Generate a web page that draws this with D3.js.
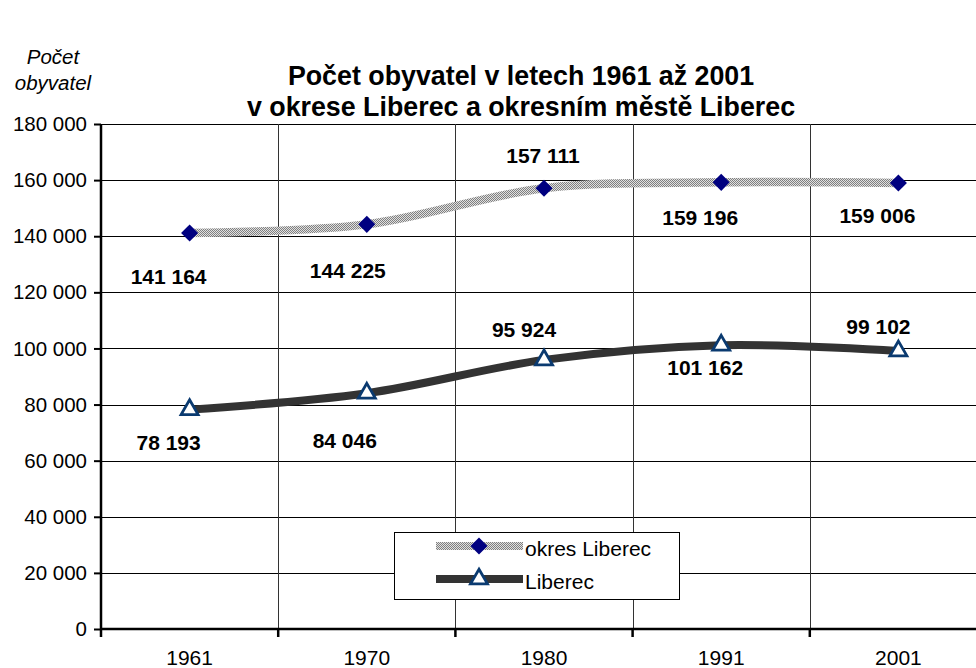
<!DOCTYPE html>
<html>
<head>
<meta charset="utf-8">
<script src="https://cdn.jsdelivr.net/npm/d3@7"></script>
<style>
html,body{margin:0;padding:0;background:#fff;}
svg{display:block;font-family:Arial,"Liberation Sans",sans-serif;}
</style>
</head>
<body>
<svg id="chart" width="976" height="668"></svg>
<script>
const categories = ["1961", "1970", "1980", "1991", "2001"];
const okresValues = [141164, 144225, 157111, 159196, 159006];
const liberecValues = [78193, 84046, 95924, 101162, 99102];
const yTicks = [0, 20000, 40000, 60000, 80000, 100000, 120000, 140000, 160000, 180000];
const seriesNames = ["okres Liberec", "Liberec"];
const titleLines = ["Počet obyvatel v letech 1961 až 2001", "v okrese Liberec a okresním městě Liberec"];
const yTitleLines = ["Počet", "obyvatel"];
// label offsets (px) relative to the point, as placed in the original
const okresLabelOffsets = [[-21, 44], [-19, 46], [-1, -33], [-21, 35], [-21, 33]];
const liberecLabelOffsets = [[-21, 33], [-22, 47], [-20, -30], [-16, 22], [-20, -24]];

const FONT = "Arial, 'Liberation Sans', sans-serif";
const svg = d3.select("#chart");
const pLeft = 101, pTop = 124, pBottom = 629, bandW = 177.2;
const pRight = pLeft + bandW * categories.length;

const x = d3.scaleBand().domain(categories).range([pLeft, pRight]).paddingInner(0).paddingOuter(0);
const y = d3.scaleLinear().domain([0, 180000]).range([pBottom, pTop]);
const fmt = v => d3.format(",")(v).replace(/,/g, " ");

// pattern for textured line
const defs = svg.append("defs");
const pat = defs.append("pattern").attr("id", "tex").attr("width", 2).attr("height", 2)
  .attr("patternUnits", "userSpaceOnUse");
pat.append("rect").attr("width", 2).attr("height", 2).attr("fill", "#e0e0e0");
pat.append("rect").attr("width", 1).attr("height", 1).attr("fill", "#808080");
pat.append("rect").attr("x", 1).attr("y", 1).attr("width", 1).attr("height", 1).attr("fill", "#808080");

// gridlines horizontal
svg.append("g").selectAll("line").data(yTicks.filter(d => d > 0)).join("line")
  .attr("x1", pLeft).attr("x2", pRight)
  .attr("y1", d => Math.round(y(d)) + 0.5).attr("y2", d => Math.round(y(d)) + 0.5)
  .attr("stroke", "#000").attr("stroke-width", 1);
// gridlines vertical at category boundaries
svg.append("g").selectAll("line").data(categories.slice(1)).join("line")
  .attr("x1", d => Math.round(x(d)) + 0.5).attr("x2", d => Math.round(x(d)) + 0.5)
  .attr("y1", pTop).attr("y2", pBottom)
  .attr("stroke", "#333").attr("stroke-width", 1);

// Y axis
const yAxis = d3.axisLeft(y).tickValues(yTicks).tickFormat(fmt).tickSize(7).tickPadding(7);
const gy = svg.append("g").attr("transform", `translate(${pLeft},0)`).call(yAxis);
gy.select(".domain").attr("stroke", "#000").attr("stroke-width", 2.5).attr("d", `M0,${pTop}V${pBottom}`);
gy.selectAll(".tick line").attr("stroke", "#000").attr("stroke-width", 2);
gy.selectAll(".tick text").attr("font-size", 20.5).attr("fill", "#000").attr("font-family", FONT);

// X axis
const xAxis = d3.axisBottom(x).tickSize(0).tickPadding(21);
const gx = svg.append("g").attr("transform", `translate(0,${pBottom})`).call(xAxis);
gx.select(".domain").attr("stroke", "#000").attr("stroke-width", 2.5).attr("d", `M${pLeft},0H${pRight}`);
gx.selectAll(".tick text").attr("font-size", 21).attr("fill", "#000").attr("font-family", FONT);
gx.append("g").selectAll("line").data(categories).join("line")
  .attr("x1", d => x(d)).attr("x2", d => x(d)).attr("y1", 0).attr("y2", 8)
  .attr("stroke", "#000").attr("stroke-width", 2.5);

const cx = d => x(d) + x.bandwidth() / 2;
const line = d3.line().x(d => d[0]).y(d => d[1]).curve(d3.curveCatmullRom.alpha(0.5));
const okPts = categories.map((c, i) => [cx(c), y(okresValues[i])]);
const libPts = categories.map((c, i) => [cx(c), y(liberecValues[i])]);

svg.append("path").attr("d", line(okPts)).attr("fill", "none").attr("stroke", "url(#tex)").attr("stroke-width", 8.5);
svg.append("path").attr("d", line(libPts)).attr("fill", "none").attr("stroke", "#333333").attr("stroke-width", 8);

const diamond = d3.symbol().type(d3.symbolSquare).size(145);
const tri = d3.symbol().type(d3.symbolTriangle).size(125);

function drawDiamond(g, px, py) {
  g.append("path").attr("d", diamond()).attr("transform", `translate(${px},${py}) rotate(45)`).attr("fill", "#000080");
}
function drawTri(g, px, py) {
  g.append("path").attr("d", tri()).attr("transform", `translate(${px},${py})`)
    .attr("fill", "#fff").attr("stroke", "#0a3a70").attr("stroke-width", 2.8);
}
const mk = svg.append("g");
okPts.forEach(p => drawDiamond(mk, p[0], p[1]));
libPts.forEach(p => drawTri(mk, p[0], p[1]));

// data labels
const lab = svg.append("g").attr("font-size", 21).attr("font-weight", "bold").attr("text-anchor", "middle").attr("fill", "#000");
okPts.forEach((p, i) => lab.append("text").attr("x", p[0] + okresLabelOffsets[i][0]).attr("y", p[1] + okresLabelOffsets[i][1] + 7.5).text(fmt(okresValues[i])));
libPts.forEach((p, i) => lab.append("text").attr("x", p[0] + liberecLabelOffsets[i][0]).attr("y", p[1] + liberecLabelOffsets[i][1] + 7.5).text(fmt(liberecValues[i])));

// title
const tg = svg.append("g").attr("font-size", 26.8).attr("font-weight", "bold").attr("text-anchor", "middle");
titleLines.forEach((t, i) => tg.append("text").attr("x", 521).attr("y", 85 + i * 31).text(t));

// y title
const yt = svg.append("g").attr("font-size", 20.5).attr("font-style", "italic").attr("text-anchor", "middle");
yTitleLines.forEach((t, i) => yt.append("text").attr("x", 53).attr("y", 64 + i * 26).text(t));

// legend
const lg = svg.append("g");
lg.append("rect").attr("x", 394.5).attr("y", 532.5).attr("width", 285).attr("height", 67)
  .attr("fill", "#fff").attr("stroke", "#000").attr("stroke-width", 1);
const rows = [546, 579];
lg.append("line").attr("x1", 436).attr("x2", 523).attr("y1", rows[0]).attr("y2", rows[0]).attr("stroke", "url(#tex)").attr("stroke-width", 8);
lg.append("line").attr("x1", 436).attr("x2", 523).attr("y1", rows[1]).attr("y2", rows[1]).attr("stroke", "#333").attr("stroke-width", 8);
drawDiamond(lg, 479, rows[0]);
drawTri(lg, 479, rows[1]);
seriesNames.forEach((n, i) => lg.append("text").attr("x", 525).attr("y", rows[i] + 10).attr("font-size", 21).text(n));
</script>
</body>
</html>
